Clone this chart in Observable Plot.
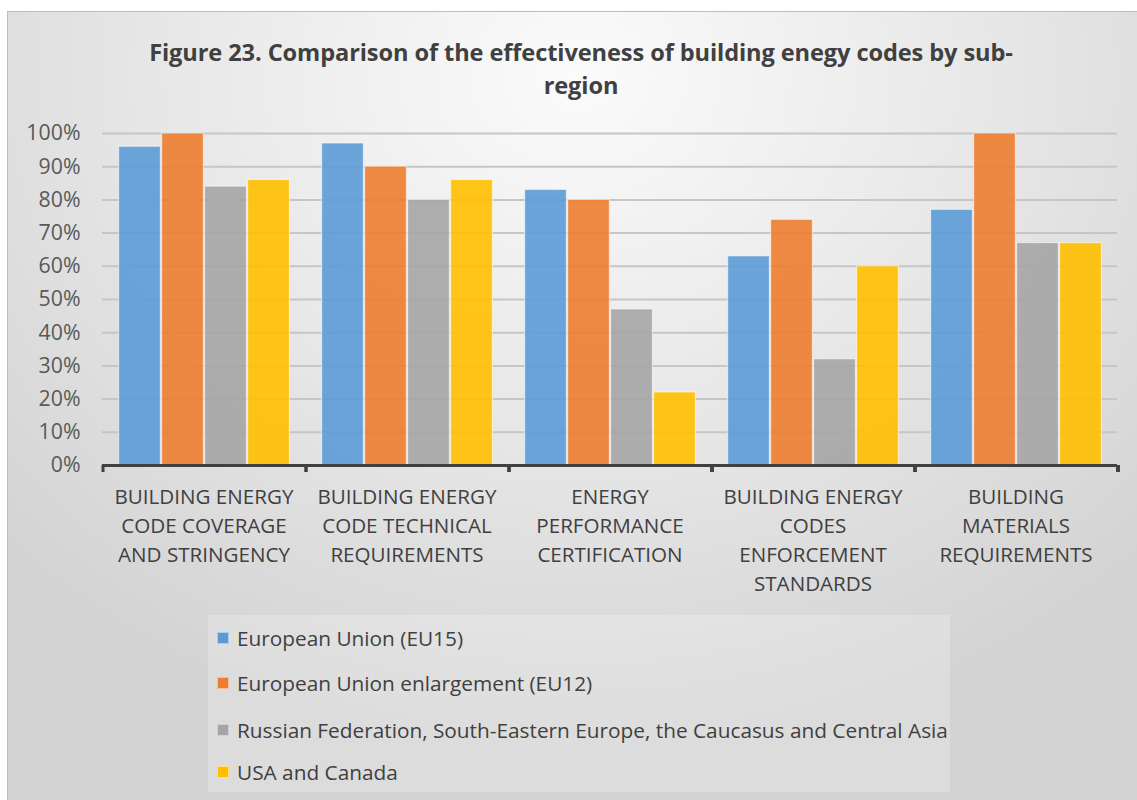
<!DOCTYPE html>
<html>
<head>
<meta charset="utf-8">
<script src="https://cdn.jsdelivr.net/npm/d3@7"></script>
<script src="https://cdn.jsdelivr.net/npm/@observablehq/plot@0.6"></script>
<style>
  html, body { margin: 0; padding: 0; background: #ffffff; }
  #wrap { position: relative; width: 1137px; height: 800px; overflow: hidden; font-family: "Open Sans", Lato, sans-serif; }
  #panel { position: absolute; left: 7px; top: 11px; width: 1140px; height: 800px; border: 1px solid #bcbcbc;
    background: radial-gradient(ellipse 70% 85% at 50% 8%, #fbfbfb 0%, #e6e6e6 55%, #d3d3d3 100%); }
  #title { position: absolute; left: 0; width: 1162px; top: 36px; text-align: center; font-weight: 700; font-size: 23.6px; line-height: 33px; color: #404040; letter-spacing: -0.1px; }
  #chart { position: absolute; left: 0; top: 0; }
  #legend { position: absolute; left: 208px; top: 615px; width: 742px; height: 177px; background: rgba(255,255,255,0.22); }
  .item { position: absolute; left: 9px; font-size: 20.8px; color: #404040; white-space: nowrap; display: flex; align-items: center; height: 28px; }
  .sw { width: 12px; height: 12px; margin-right: 8px; display: inline-block; box-sizing: border-box; border: 1px solid rgba(255,255,255,0.5); }
</style>
</head>
<body>
<div id="wrap">
  <div id="panel"></div>
  <div id="title">Figure 23. Comparison of the effectiveness of building enegy codes by sub-<br>region</div>
  <div id="chart"></div>
  <div id="legend"></div>
</div>
<script>
const categories = [
  "BUILDING ENERGY CODE COVERAGE AND STRINGENCY",
  "BUILDING ENERGY CODE TECHNICAL REQUIREMENTS",
  "ENERGY PERFORMANCE CERTIFICATION",
  "BUILDING ENERGY CODES ENFORCEMENT STANDARDS",
  "BUILDING MATERIALS REQUIREMENTS"
];
const categoryLabels = [
  "BUILDING ENERGY\nCODE COVERAGE\nAND STRINGENCY",
  "BUILDING ENERGY\nCODE TECHNICAL\nREQUIREMENTS",
  "ENERGY\nPERFORMANCE\nCERTIFICATION",
  "BUILDING ENERGY\nCODES\nENFORCEMENT\nSTANDARDS",
  "BUILDING\nMATERIALS\nREQUIREMENTS"
];
const series = [
  "European Union (EU15)",
  "European Union enlargement (EU12)",
  "Russian Federation, South-Eastern Europe, the Caucasus and Central Asia",
  "USA and Canada"
];
const colors = ["#5b9bd5", "#ed7d31", "#a5a5a5", "#ffc000"];
const eu15 = [0.96, 0.97, 0.83, 0.63, 0.77];
const eu12 = [1.00, 0.90, 0.80, 0.74, 1.00];
const russia = [0.84, 0.80, 0.47, 0.32, 0.67];
const usaCanada = [0.86, 0.86, 0.22, 0.60, 0.67];
const yTicks = [0, 0.1, 0.2, 0.3, 0.4, 0.5, 0.6, 0.7, 0.8, 0.9, 1.0];

const valuesBySeries = [eu15, eu12, russia, usaCanada];
const data = [];
categories.forEach((c, i) => series.forEach((s, j) => data.push({category: c, series: s, value: valuesBySeries[j][i]})));
const labelOf = new Map(categories.map((c, i) => [c, categoryLabels[i]]));

// band-edge ticks on the category axis
function categoryTicks(index, scales, values, dimensions) {
  const g = d3.create("svg:g");
  const fx = scales.fx;
  const edges = categories.map(c => fx(c));
  edges.push(fx(categories[categories.length - 1]) + fx.bandwidth());
  const y0 = scales.y(0);
  for (const x of edges) {
    g.append("line").attr("x1", x).attr("x2", x).attr("y1", y0).attr("y2", y0 + 7)
      .attr("stroke", "#404040").attr("stroke-width", 3);
  }
  return g.node();
}

const chart = Plot.plot({
  width: 1137,
  height: 610,
  marginLeft: 101,
  marginRight: 19,
  marginTop: 133,
  marginBottom: 145,
  style: {background: "transparent", fontFamily: "'Open Sans', Lato, sans-serif", overflow: "visible"},
  fx: {domain: categories, padding: 0, label: null},
  x: {domain: series, paddingInner: 0, paddingOuter: 0.335, axis: null},
  y: {domain: [0, 1], label: null},
  color: {domain: series, range: colors},
  marks: [
    Plot.ruleY(yTicks.filter(d => d > 0), {stroke: "#c6c6c6", strokeWidth: 2}),
    Plot.barY(data, {fx: "category", x: "series", y: "value", fill: "series", fillOpacity: 0.9,
      stroke: "#ffffff", strokeOpacity: 0.55, strokeWidth: 1.2, insetLeft: 0.6, insetRight: 0.6}),
    Plot.ruleY([0], {stroke: "#404040", strokeWidth: 3}),
    Plot.axisY({ticks: yTicks, tickFormat: d3.format(".0%"), tickSize: 0, tickPadding: 22,
      fontSize: 21.3, fill: "#595959", label: null}),
    Plot.axisFx({anchor: "bottom", tickSize: 0, tickPadding: 18, fontSize: 20.6, fill: "#404040",
      lineHeight: 1.41, tickFormat: d => labelOf.get(d), label: null}),
    categoryTicks
  ]
});
document.getElementById("chart").appendChild(chart);

const legend = document.getElementById("legend");
const legendTops = [9, 54, 101, 143];
series.forEach((s, i) => {
  const el = document.createElement("div");
  el.className = "item";
  el.style.top = legendTops[i] + "px";
  el.innerHTML = `<span class="sw" style="background:${colors[i]}"></span>${s}`;
  legend.appendChild(el);
});
</script>
</body>
</html>
